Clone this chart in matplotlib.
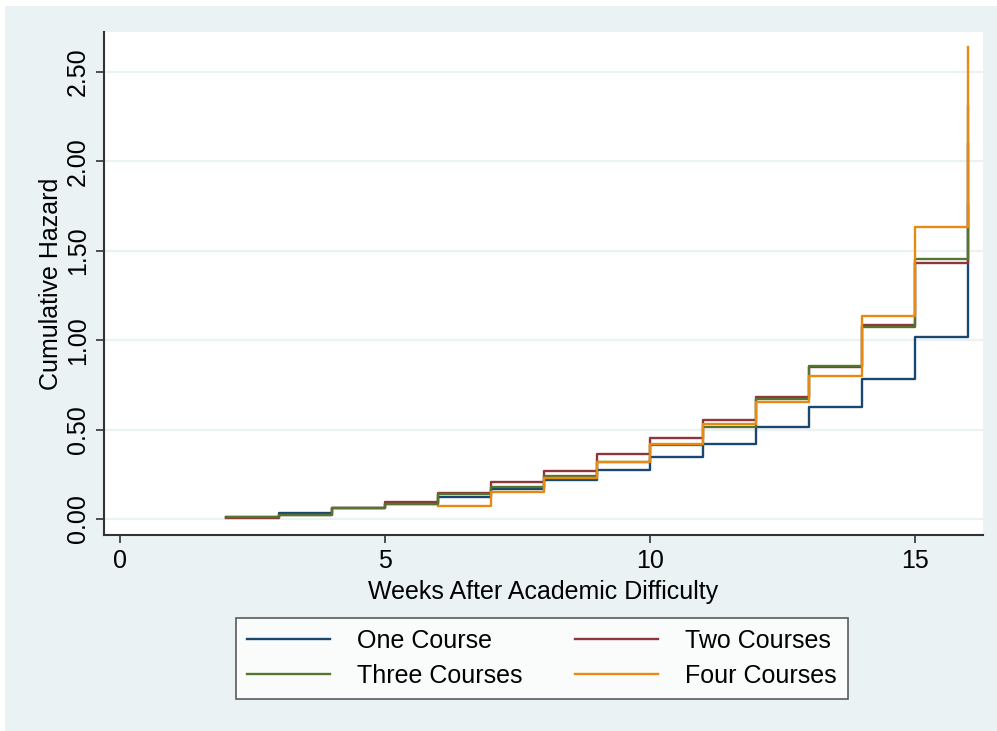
import numpy as np
import matplotlib.pyplot as plt
from matplotlib.patches import Rectangle

plt.rcParams['font.family'] = ['Liberation Sans', 'DejaVu Sans']

#%% Data (Nelson-Aalen cumulative hazard, step at each week)
weeks_one = [2, 3, 4, 5, 6, 7, 8, 9, 10, 11, 12, 13, 14, 15, 16]
haz_one = [0.013, 0.033, 0.063, 0.085, 0.125, 0.17, 0.218, 0.274, 0.345,
           0.42, 0.516, 0.628, 0.785, 1.016, 1.75]

weeks_two = [2, 3, 4, 5, 6, 7, 8, 9, 10, 11, 12, 13, 14, 15, 16]
haz_two = [0.008, 0.025, 0.063, 0.095, 0.145, 0.205, 0.27, 0.364, 0.453,
           0.554, 0.68, 0.852, 1.087, 1.43, 2.10]

weeks_three = [2, 3, 4, 5, 6, 7, 8, 9, 10, 11, 12, 13, 14, 15, 16]
haz_three = [0.01, 0.025, 0.06, 0.085, 0.14, 0.18, 0.24, 0.32, 0.414,
             0.515, 0.669, 0.856, 1.074, 1.454, 2.31]

weeks_four = [6, 7, 8, 9, 10, 11, 12, 13, 14, 15, 16]
haz_four = [0.07, 0.15, 0.227, 0.319, 0.42, 0.531, 0.656, 0.80, 1.135,
            1.633, 2.64]

labels = ['One Course', 'Two Courses', 'Three Courses', 'Four Courses']
colors = ['#1a476f', '#90353b', '#55752f', '#e88a12']
xticks = [0, 5, 10, 15]
yticks = [0.0, 0.5, 1.0, 1.5, 2.0, 2.5]

#%% Figure
bg = '#eaf2f3'
fs = 18
fig = plt.figure(figsize=(9.97, 7.31), dpi=100, facecolor='white')
fig.patches.append(Rectangle((5 / 997, 0), 1, 1 - 6 / 731,
                             transform=fig.transFigure, facecolor=bg,
                             edgecolor='none', zorder=-10))

ax = fig.add_axes([104 / 997, 196 / 731, 879 / 997, 503 / 731])
ax.set_facecolor('white')

series = [(weeks_one, haz_one), (weeks_two, haz_two),
          (weeks_three, haz_three), (weeks_four, haz_four)]
handles = []
for (w, h), lab, c in zip(series, labels, colors):
    ln, = ax.step(w, h, where='post', color=c, lw=1.7, label=lab)
    handles.append(ln)

ax.set_xlim(-0.302, 16.283)
ax.set_ylim(-0.0895, 2.724)

for y in yticks:
    ax.axhline(y, color=bg, lw=1.6, zorder=0)

ax.set_xticks(xticks)
ax.set_yticks(yticks)
ax.set_yticklabels(['%.2f' % v for v in yticks], rotation=90, va='center')
ax.tick_params(axis='both', labelsize=fs, length=6, width=1.2,
               color='#333333', direction='out', pad=4)

for s in ['top', 'right']:
    ax.spines[s].set_visible(False)
for s in ['left', 'bottom']:
    ax.spines[s].set_color('#333333')
    ax.spines[s].set_linewidth(1.5)

ax.set_ylabel('Cumulative Hazard', fontsize=fs, labelpad=2)
ax.set_xlabel('Weeks After Academic Difficulty', fontsize=fs, labelpad=5)

# legend fills row by row in the reference: One, Two / Three, Four
order = [0, 2, 1, 3]
leg = fig.legend([handles[i] for i in order], [labels[i] for i in order],
                 loc='center', bbox_to_anchor=(542 / 997, 1 - 658.5 / 731),
                 ncol=2, fontsize=fs, frameon=True, fancybox=False,
                 handlelength=3.3, columnspacing=2.1, handletextpad=1.1,
                 borderpad=0.45, labelspacing=0.45, borderaxespad=0)
leg.get_frame().set_edgecolor('#333333')
leg.get_frame().set_linewidth(1.2)
for line in leg.get_lines():
    line.set_linewidth(1.7)

fig.savefig('out.png', dpi=100, facecolor=fig.get_facecolor())
